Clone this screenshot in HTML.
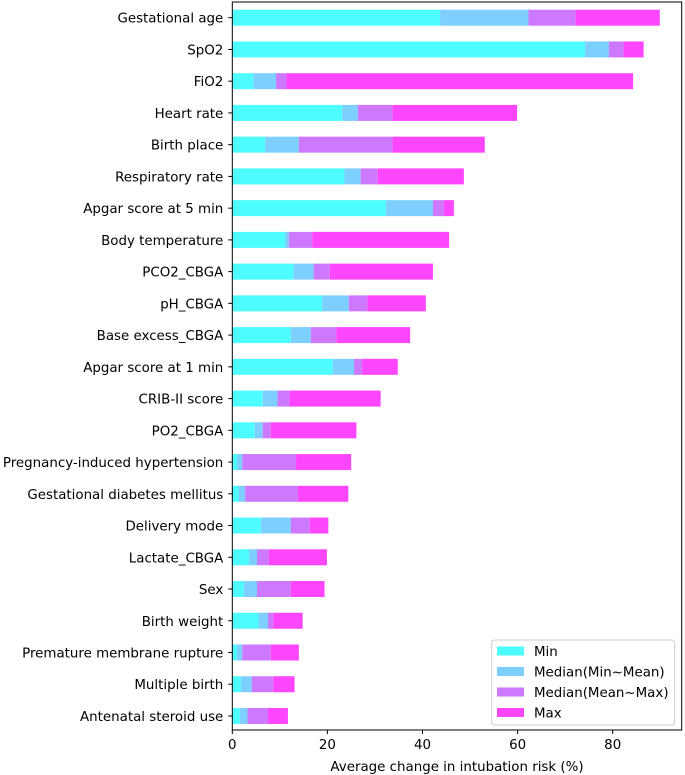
<!DOCTYPE html>
<html><head><meta charset="utf-8"><style>
body{margin:0;background:#fff;}
svg{display:block;font-family:"DejaVu Sans","Liberation Sans",sans-serif;}
</style></head><body>
<svg id="chart" width="685" height="775"></svg>
<script>
const categories=["Gestational age","SpO2","FiO2","Heart rate","Birth place","Respiratory rate","Apgar score at 5 min","Body temperature","PCO2_CBGA","pH_CBGA","Base excess_CBGA","Apgar score at 1 min","CRIB-II score","PO2_CBGA","Pregnancy-induced hypertension","Gestational diabetes mellitus","Delivery mode","Lactate_CBGA","Sex","Birth weight","Premature membrane rupture","Multiple birth","Antenatal steroid use"];
const minVals=[43.7,74.2,4.4,23.1,6.9,23.6,32.3,11.1,12.9,18.9,12.3,21.1,6.4,4.7,1.0,1.3,6.0,3.5,2.4,5.5,1.0,1.8,1.6];
const medMinMeanVals=[62.3,79.2,9.2,26.4,14.0,27.0,42.2,11.9,17.1,24.5,16.5,25.6,9.5,6.4,2.1,2.7,12.3,5.2,5.2,7.5,2.1,4.1,3.2];
const medMeanMaxVals=[72.2,82.3,11.4,33.7,33.7,30.6,44.5,16.8,20.5,28.4,21.9,27.3,12.0,8.1,13.4,13.8,16.3,7.7,12.3,8.6,8.1,8.6,7.5];
const maxVals=[89.9,86.5,84.3,59.9,53.1,48.7,46.6,45.6,42.2,40.7,37.4,34.8,31.2,26.1,25.0,24.4,20.2,19.9,19.4,14.8,14.0,13.1,11.7];
const xTicks=[0,20,40,60,80];
const seriesNames=["Min","Median(Min~Mean)","Median(Mean~Max)","Max"];
const colors=["#4dfdff","#7ccfff","#cd79ff","#ff46ff"];

const NS="http://www.w3.org/2000/svg";
const svg=document.getElementById("chart");
const L=232.3,R=681.7,T=2,B=730,scale=4.755;
const xs=v=>L+v*scale;
const y0=17.7,step=31.74,bh=16;
const ys=i=>y0+i*step;
function mk(t,a,p){const e=document.createElementNS(NS,t);for(const k in a)e.setAttribute(k,a[k]);(p||svg).appendChild(e);return e;}

const series=[minVals,medMinMeanVals,medMeanMaxVals,maxVals];
categories.forEach((c,i)=>{
  const g=mk("g",{});
  
  
  let prev=0;
  series.forEach((s,k)=>{
    const v=s[i];
    const r=mk("rect",{x:xs(prev),y:ys(i)-bh/2,width:Math.max(0,xs(v)-xs(prev)),height:bh,fill:colors[k]},g);
    
    
    prev=v;
  });
  const tk=mk("line",{x1:L-4,x2:L,y1:ys(i),y2:ys(i),stroke:"#000"});
  
  
  const t=mk("text",{x:L-9,y:ys(i)+5,"text-anchor":"end","font-size":"13.4"});
  t.textContent=c;
  
  
});
xTicks.forEach(v=>{
  const tk=mk("line",{x1:xs(v),x2:xs(v),y1:B,y2:B+4,stroke:"#000"});
  
  
  const t=mk("text",{x:xs(v),y:B+19,"text-anchor":"middle","font-size":"13.4"});
  t.textContent=v;
  
  
});
const frame=mk("rect",{x:L,y:T,width:R-L,height:B-T,fill:"none",stroke:"#000","stroke-width":"1"});


const xl=mk("text",{x:(L+R)/2,y:771,"text-anchor":"middle","font-size":"13.4"});
xl.textContent="Average change in intubation risk (%)";



const lg=mk("g",{});


mk("rect",{x:491.7,y:640,width:183,height:85,rx:3,fill:"#fff",stroke:"#ccc"},lg);
seriesNames.forEach((n,k)=>{
  const yy=651+k*20.5;
  const sw=mk("rect",{x:497,y:yy-4.5,width:27,height:9,fill:colors[k]},lg);
  
  
  const t=mk("text",{x:534,y:yy+5,"font-size":"13.4"},lg);
  t.textContent=n;
  
  
});
</script>
</body></html>
